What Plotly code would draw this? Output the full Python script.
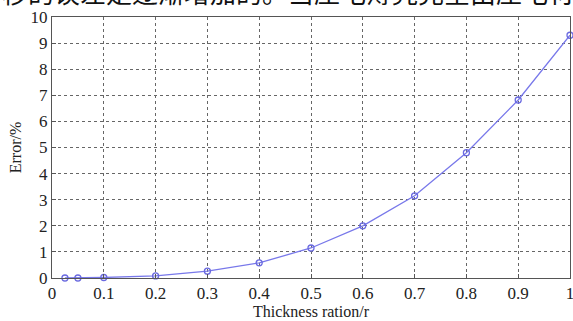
import plotly.graph_objects as go

x_vals = [0.025, 0.05, 0.1, 0.2, 0.3, 0.4, 0.5, 0.6, 0.7, 0.8, 0.9, 1.0]
err_vals = [0.0, 0.0, 0.02, 0.08, 0.26, 0.58, 1.15, 2.0, 3.15, 4.8, 6.82, 9.3]
x_ticks = [0, 0.1, 0.2, 0.3, 0.4, 0.5, 0.6, 0.7, 0.8, 0.9, 1.0]
x_tick_labels = ["0", "0.1", "0.2", "0.3", "0.4", "0.5", "0.6", "0.7", "0.8", "0.9", "1"]
y_ticks = list(range(0, 11))
y_tick_labels = [str(v) for v in y_ticks]
top_text = "移的误差是逐渐增加的。当压电薄壳完全由压电材料"

serif = "Liberation Serif, Times New Roman, serif"

fig = go.Figure()
fig.add_trace(go.Scatter(
    x=x_vals, y=err_vals, mode="lines+markers",
    line=dict(color="#7878ea", width=1.3),
    marker=dict(symbol="circle-open", size=6, color="#6a6ae0", line=dict(width=1.3)),
    showlegend=False, cliponaxis=False,
))

axis_common = dict(
    showline=True, mirror=True, linecolor="#555555", linewidth=1,
    showgrid=True, gridcolor="#666666", griddash="dot", gridwidth=1,
    zeroline=False, ticks="inside", ticklen=4, tickcolor="#555555",
    tickfont=dict(family=serif, size=17, color="#222222"),
    automargin=False, ticklabeloverflow="allow",
)

fig.update_layout(
    width=573, height=321,
    margin=dict(l=52, r=3, t=17, b=43),
    paper_bgcolor="white", plot_bgcolor="white",
    xaxis=dict(range=[0, 1], tickvals=x_ticks, ticktext=x_tick_labels,
               title=dict(text="Thickness ration/r", font=dict(family=serif, size=16, color="#222222"), standoff=2),
               **axis_common),
    yaxis=dict(range=[0, 10], tickvals=y_ticks, ticktext=y_tick_labels,
               title=dict(text="Error/%", font=dict(family=serif, size=16, color="#222222"), standoff=4),
               **axis_common),
    annotations=[dict(
        text=top_text, xref="paper", yref="paper", x=-0.1, y=1.0, xanchor="left", yanchor="bottom",
        yshift=5, showarrow=False, font=dict(family="Noto Sans CJK SC", size=26, color="#111111"),
    )],
)

fig.write_html("out.html", config={"displayModeBar": False},
               post_script="document.body.style.margin='0';document.body.style.overflow='hidden';")
